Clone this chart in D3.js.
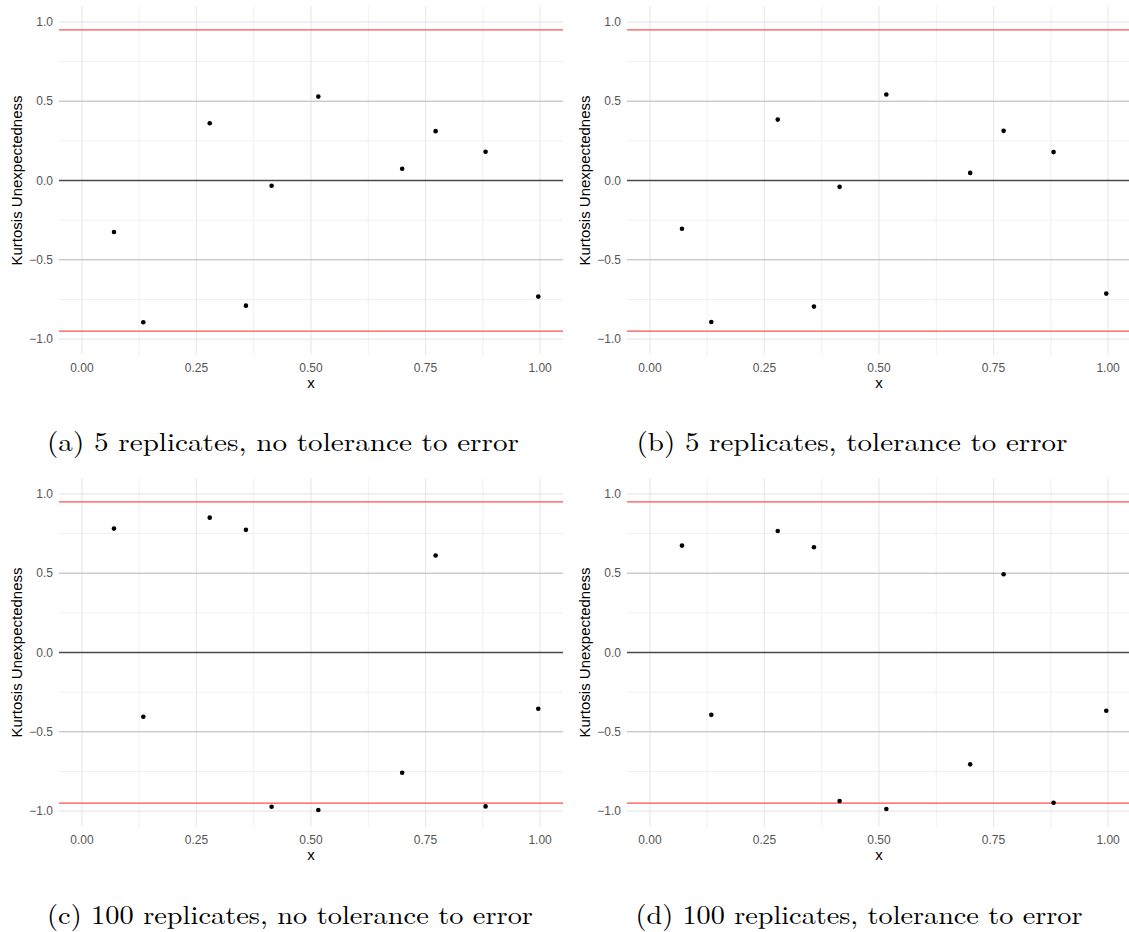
<!DOCTYPE html>
<head>
 <meta charset="utf-8">
 <script src="https://cdn.jsdelivr.net/npm/d3@7"></script>
 <title>Kurtosis Unexpectedness</title>
</head>

<style>
body{
  margin: 0;
  background-color: white;
}
.tick-label{
  font-family: "Liberation Sans", Arial, sans-serif;
  font-size: 12px;
  fill: #555;
}
.axis-title{
  font-family: "Liberation Sans", Arial, sans-serif;
  font-size: 15px;
  fill: #000;
}
.caption{
  font-family: "Latin Modern Roman", "Liberation Serif", serif;
  font-size: 26px;
  fill: #000;
}
</style>

<body>
 <div id="chart"></div>
</body>

<script type="text/javascript">
 // x positions are shared by all four panels
 var xValues = [0.070, 0.134, 0.279, 0.358, 0.414, 0.516, 0.699, 0.772, 0.881, 0.996];

 var panelA = [-0.325, -0.894, 0.361, -0.789, -0.033, 0.529, 0.074, 0.311, 0.181, -0.732];
 var panelB = [-0.304, -0.892, 0.384, -0.795, -0.040, 0.542, 0.048, 0.313, 0.179, -0.713];
 var panelC = [0.781, -0.405, 0.850, 0.773, -0.972, -0.993, -0.758, 0.611, -0.970, -0.355];
 var panelD = [0.674, -0.393, 0.766, 0.663, -0.936, -0.987, -0.705, 0.493, -0.947, -0.367];

 var captions = [
   "(a) 5 replicates, no tolerance to error",
   "(b) 5 replicates, tolerance to error",
   "(c) 100 replicates, no tolerance to error",
   "(d) 100 replicates, tolerance to error"
 ];

 var xTicks = [0, 0.25, 0.5, 0.75, 1];
 var xMinor = [0.125, 0.375, 0.625, 0.875];
 var yTicks = [-1, -0.5, 0, 0.5, 1];
 var yMinor = [-0.75, -0.25, 0.25, 0.75];
 var limit = 0.95;

 var props = {
   width: 1129,
   height: 932,
   plotW: 504,
   plotH: 349
 }

 var svg = d3.select("#chart").append("svg")
   .attr("width", props.width).attr("height", props.height);

 // left/top of each plot area, caption centre, baseline and width
 var layout = [
   {left: 59,  top: 6,   capX: 283, capY: 451, capW: 472, values: panelA},
   {left: 627, top: 6,   capX: 852, capY: 451, capW: 431, values: panelB},
   {left: 59,  top: 478, capX: 290, capY: 924, capW: 486, values: panelC},
   {left: 627, top: 478, capX: 859, capY: 924, capW: 447, values: panelD}
 ];

 function drawPanel(p, i){
   var x = d3.scaleLinear().domain([-0.05, 1.05]).range([p.left, p.left + props.plotW]);
   var y = d3.scaleLinear().domain([-1.1, 1.1]).range([p.top + props.plotH, p.top]);
   var g = svg.append("g");
   var x0 = p.left, x1 = Math.min(p.left + props.plotW, props.width);

   // minor grid
   g.selectAll(".vminor").data(xMinor).enter().append("line")
     .attr("x1", d => x(d)).attr("x2", d => x(d))
     .attr("y1", p.top).attr("y2", p.top + props.plotH)
     .attr("stroke", "#f0f0f0").attr("stroke-width", 1);
   g.selectAll(".hminor").data(yMinor).enter().append("line")
     .attr("x1", x0).attr("x2", x1)
     .attr("y1", d => y(d)).attr("y2", d => y(d))
     .attr("stroke", "#f0f0f0").attr("stroke-width", 1);

   // major grid
   g.selectAll(".vmajor").data(xTicks).enter().append("line")
     .attr("x1", d => x(d)).attr("x2", d => x(d))
     .attr("y1", p.top).attr("y2", p.top + props.plotH)
     .attr("stroke", "#e8e8e8").attr("stroke-width", 1.1);
   g.selectAll(".hmajor").data(yTicks).enter().append("line")
     .attr("x1", x0).attr("x2", x1)
     .attr("y1", d => y(d)).attr("y2", d => y(d))
     .attr("stroke", "#e8e8e8").attr("stroke-width", 1.1);

   // reference lines
   g.selectAll(".half").data([-0.5, 0.5]).enter().append("line")
     .attr("x1", x0).attr("x2", x1)
     .attr("y1", d => y(d)).attr("y2", d => y(d))
     .attr("stroke", "#bdbdbd").attr("stroke-width", 1.1);
   g.append("line")
     .attr("x1", x0).attr("x2", x1)
     .attr("y1", y(0)).attr("y2", y(0))
     .attr("stroke", "#4a4a4a").attr("stroke-width", 1.4);
   g.selectAll(".limit").data([-limit, limit]).enter().append("line")
     .attr("x1", x0).attr("x2", x1)
     .attr("y1", d => y(d)).attr("y2", d => y(d))
     .attr("stroke", "#ff5050").attr("stroke-width", 1.3);

   // points
   g.selectAll("circle").data(p.values).enter().append("circle")
     .attr("cx", (d, j) => x(xValues[j]))
     .attr("cy", d => y(d))
     .attr("r", 2.3)
     .attr("fill", "#000");

   // tick labels
   g.selectAll(".ylab").data(yTicks).enter().append("text")
     .attr("class", "tick-label")
     .attr("x", p.left - 6).attr("y", d => y(d) + 4)
     .attr("text-anchor", "end")
     .text(d => d3.format(".1f")(d).replace("-", "\u2212"));
   g.selectAll(".xlab").data(xTicks).enter().append("text")
     .attr("class", "tick-label")
     .attr("x", d => x(d)).attr("y", p.top + props.plotH + 17)
     .attr("text-anchor", "middle")
     .text(d => d3.format(".2f")(d));

   // axis titles
   g.append("text").attr("class", "axis-title")
     .attr("x", x(0.5)).attr("y", p.top + props.plotH + 33)
     .attr("text-anchor", "middle")
     .text("x");
   g.append("text").attr("class", "axis-title")
     .attr("transform", "translate(" + (p.left - 37) + "," + y(0) + ") rotate(-90)")
     .attr("text-anchor", "middle")
     .text("Kurtosis Unexpectedness");

   // caption
   g.append("text").attr("class", "caption")
     .attr("x", p.capX).attr("y", p.capY)
     .attr("text-anchor", "middle")
     .attr("textLength", p.capW)
     .attr("lengthAdjust", "spacingAndGlyphs")
     .text(captions[i]);
 }

 layout.forEach(drawPanel);
</script>
